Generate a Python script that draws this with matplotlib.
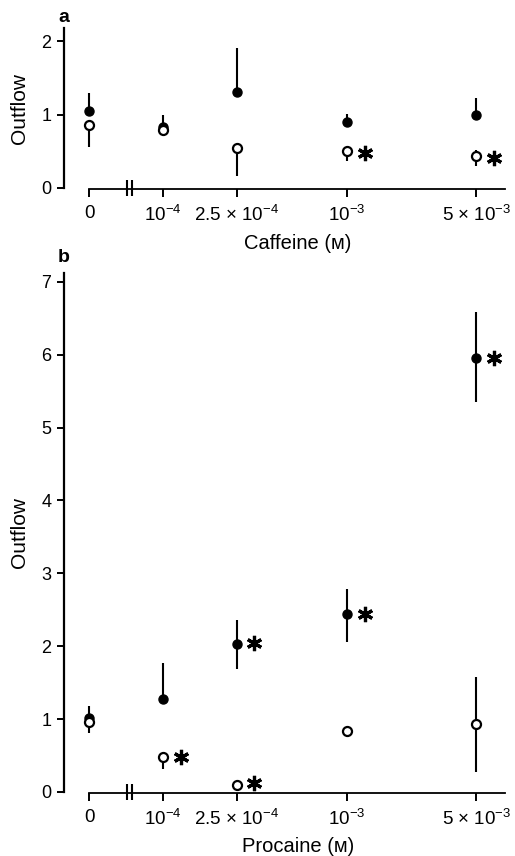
import matplotlib
matplotlib.use("Agg")
import matplotlib.pyplot as plt

plt.rcParams['font.family'] = ['Liberation Sans', 'DejaVu Sans']
plt.rcParams['mathtext.fontset'] = 'custom'
plt.rcParams['mathtext.rm'] = 'Liberation Sans'
plt.rcParams['mathtext.default'] = 'regular'

# concentration categories (positions on the broken x axis)
x_pos = [0, 1, 2, 3.5, 5.25]
x_labels = ['0', '$10^{-4}$', '2.5 × $10^{-4}$', '$10^{-3}$', '5 × $10^{-3}$']

# panel a: caffeine
caf_closed = [1.05, 0.83, 1.31, 0.90, 1.00]
caf_closed_up = [0.24, 0.16, 0.60, 0.11, 0.22]
caf_closed_lo = [0, 0, 0, 0, 0]
caf_open = [0.86, 0.79, 0.54, 0.51, 0.43]
caf_open_up = [0, 0, 0, 0, 0.09]
caf_open_lo = [0.30, 0.06, 0.38, 0.14, 0.13]
caf_star_x = [3.5, 5.25]
caf_star_y = [0.48, 0.41]

# panel b: procaine
pro_closed = [1.02, 1.28, 2.03, 2.44, 5.95]
pro_closed_up = [0.16, 0.49, 0.33, 0.34, 0.63]
pro_closed_lo = [0, 0, 0.34, 0.38, 0.60]
pro_open = [0.96, 0.48, 0.09, 0.84, 0.93]
pro_open_up = [0, 0, 0, 0.05, 0.65]
pro_open_lo = [0.15, 0.16, 0, 0.05, 0.65]
pro_star_x = [1, 2, 2, 3.5, 5.25]
pro_star_y = [0.48, 0.13, 2.04, 2.44, 5.96]

W, H = 515, 856
fig = plt.figure(figsize=(W / 100, H / 100), dpi=100)


def px_axes(left, right, top, bottom):
    return fig.add_axes([left / W, 1 - bottom / H, (right - left) / W, (bottom - top) / H])


def draw_panel(ax, closed, c_up, c_lo, opn, o_up, o_lo, star_x, star_y, ytop, yticks, xlabel):
    ax.errorbar(x_pos, closed, yerr=[c_lo, c_up], fmt='o', color='black', ms=6.5,
                elinewidth=1.5, capsize=0, zorder=3, clip_on=False)
    ax.errorbar(x_pos, opn, yerr=[o_lo, o_up], fmt='o', color='black', mfc='white',
                mec='black', mew=1.6, ms=6.5, elinewidth=1.5, capsize=0, zorder=4, clip_on=False)
    sx = [v + 0.24 for v in star_x]
    ax.plot(sx, star_y, ls='none', marker=(6, 2, 0), ms=11, mew=2.3, color='black', clip_on=False)

    ax.set_xlim(-0.34, 5.64)
    ax.set_ylim(0, ytop)
    for s in ['top', 'right']:
        ax.spines[s].set_visible(False)
    ax.spines['left'].set_linewidth(1.6)
    ax.spines['bottom'].set_linewidth(1.3)
    ax.spines['left'].set_bounds(0, ytop)
    ax.spines['bottom'].set_bounds(0, 5.64)
    ax.spines['bottom'].set_position(('outward', 1))

    ax.set_yticks(yticks)
    ax.set_xticks(x_pos)
    ax.set_xticklabels(x_labels)
    ax.tick_params(axis='y', direction='out', length=5, width=1.4, labelsize=13, pad=4)
    ax.tick_params(axis='x', direction='out', length=6, width=1.4, labelsize=13.5, pad=5)

    # axis break marks
    ax.plot([0.52, 0.585], [0, 0], ls='none', marker='|', ms=12, mew=1.5,
            color='black', clip_on=False)

    ax.set_ylabel('Outflow', fontsize=15)
    ax.set_xlabel(xlabel, fontsize=14.5)


ax_a = px_axes(64, 505, 28, 188)
draw_panel(ax_a, caf_closed, caf_closed_up, caf_closed_lo, caf_open, caf_open_up, caf_open_lo,
           caf_star_x, caf_star_y, 2.18, [0, 1, 2], 'Caffeine (ᴍ)')
ax_a.yaxis.set_label_coords(-0.08, 0.5)
ax_a.xaxis.set_label_coords(0.53, -0.29)

ax_b = px_axes(64, 505, 273, 792)
draw_panel(ax_b, pro_closed, pro_closed_up, pro_closed_lo, pro_open, pro_open_up, pro_open_lo,
           pro_star_x, pro_star_y, 7.12, list(range(8)), 'Procaine (ᴍ)')
ax_b.yaxis.set_label_coords(-0.08, 0.5)
ax_b.xaxis.set_label_coords(0.53, -0.087)

fig.text(64 / W, 1 - 17 / H, 'a', fontsize=14, fontweight='bold', ha='center', va='center')
fig.text(64 / W, 1 - 258 / H, 'b', fontsize=14, fontweight='bold', ha='center', va='center')

fig.savefig('out.png', dpi=100)
